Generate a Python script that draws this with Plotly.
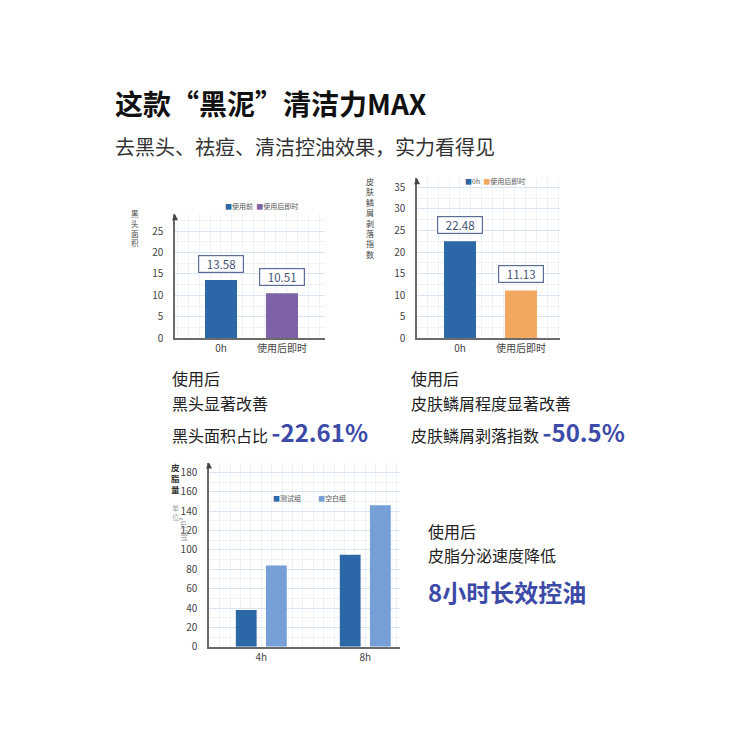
import plotly.graph_objects as go

# ---------------- data ----------------
cats1 = ["0h", "使用后即时"]
vals1 = [13.58, 10.51]
legend1 = ["使用前", "使用后即时"]

cats2 = ["0h", "使用后即时"]
vals2 = [22.48, 11.13]
legend2 = ["0h", "使用后即时"]

cats3 = ["4h", "8h"]
series3 = ["测试组", "空白组"]
test3 = [38, 95]
blank3 = [84, 146]

# ---------------- style ----------------
FONT = "Noto Sans CJK SC, Noto Sans, sans-serif"
BLUE = "#2c67a8"
PURPLE = "#7e62a6"
ORANGE = "#f3a862"
LIGHT = "#759fd6"
ACCENT = "#3c4aa8"
GRID = "#d9e3f2"
MINOR = "#edf2fa"
AXIS = "#6b6b6b"
W = H = 750
OFF = 8    # page body margin
VH = 742   # visible plot height


def px(x):
    return (x - OFF) / W


def py(y):
    return 1 - (y - OFF) / VH


fig = go.Figure()

# chart 1
fig.add_trace(go.Bar(x=[0, 1], y=vals1, marker=dict(color=[BLUE, PURPLE], line=dict(width=0)),
                     width=0.525, xaxis="x", yaxis="y", showlegend=False, hoverinfo="skip"))
# chart 2
fig.add_trace(go.Bar(x=[0, 1], y=vals2, marker=dict(color=[BLUE, ORANGE], line=dict(width=0)),
                     width=0.525, xaxis="x2", yaxis="y2", showlegend=False, hoverinfo="skip"))
# chart 3
fig.add_trace(go.Bar(x=[0, 1], y=test3, name=series3[0], marker=dict(color=BLUE, line=dict(width=0)),
                     width=0.2, offset=-0.245, xaxis="x3", yaxis="y3", showlegend=False, hoverinfo="skip"))
fig.add_trace(go.Bar(x=[0, 1], y=blank3, name=series3[1], marker=dict(color=LIGHT, line=dict(width=0)),
                     width=0.2, offset=0.045, xaxis="x3", yaxis="y3", showlegend=False, hoverinfo="skip"))


def xax(dom, rng, cats, mdt):
    return dict(domain=dom, range=rng, tickmode="array", tickvals=list(range(len(cats))), ticktext=cats,
                showgrid=False, zeroline=False, showline=True, linecolor=AXIS, linewidth=1.5,
                ticks="", tickfont=dict(size=10, color="#444", family=FONT), fixedrange=True,
                minor=dict(tickmode="linear", tick0=0, dtick=mdt, showgrid=True, gridcolor=MINOR, ticks=""))


def yax(dom, rng, dt, mdt, anchor):
    return dict(domain=dom, range=rng, dtick=dt, tick0=0, showgrid=True, gridcolor=GRID, gridwidth=1,
                zeroline=False, showline=True, linecolor=AXIS, linewidth=1.5, ticks="",
                ticklabelstandoff=8, anchor=anchor,
                tickfont=dict(size=10, color="#444", family=FONT), fixedrange=True,
                minor=dict(dtick=mdt, showgrid=True, gridcolor=MINOR, ticks=""))


fig.update_layout(
    width=W, height=H, autosize=False,
    margin=dict(l=0, r=0, t=0, b=0),
    paper_bgcolor="white", plot_bgcolor="white",
    font=dict(family=FONT, color="#222"),
    barmode="overlay",
    xaxis=dict(xax([px(175), px(325)], [-0.754, 1.705], cats1, 0.18), anchor="y"),
    yaxis=yax([py(338), py(214)], [0, 28.9], 5, 2.5, "x"),
    xaxis2=dict(xax([px(417), px(560)], [-0.705, 1.64], cats2, 0.18), anchor="y2"),
    yaxis2=yax([py(338), py(178)], [0, 37.1], 5, 2.5, "x2"),
    xaxis3=dict(xax([px(209), px(400)], [-0.503, 1.334], cats3, 0.1), anchor="y3"),
    yaxis3=yax([py(646), py(462)], [0, 190], 20, 10, "x3"),
)

ann = []


def text(x, y, s, size, color="#222", bold=False, anchor="left"):
    ann.append(dict(x=px(x), y=py(y), xref="paper", yref="paper", xanchor=anchor, yanchor="middle",
                    text=(f"<b>{s}</b>" if bold else s), showarrow=False,
                    font=dict(size=size, color=color, family=FONT)))


# titles
text(113, 103, "这款“黑泥”清洁力MAX", 28, "#111", bold=True)
text(113, 146, "去黑头、祛痘、清洁控油效果，实力看得见", 20, "#333")

# chart 1 block
text(170, 378, "使用后", 16)
text(170, 402, "黑头显著改善", 16)
text(170, 431, f"黑头面积占比 <span style='font-size:24px;color:{ACCENT}'><b>-22.61%</b></span>", 16)
# chart 2 block
text(409, 378, "使用后", 16)
text(409, 402, "皮肤鳞屑程度显著改善", 16)
text(409, 431, f"皮肤鳞屑剥落指数 <span style='font-size:24px;color:{ACCENT}'><b>-50.5%</b></span>", 16)
# chart 3 block
text(426, 530, "使用后", 16)
text(426, 554, "皮脂分泌速度降低", 16)
text(426, 591, "8小时长效控油", 24, ACCENT, bold=True)

# axis titles
text(135, 228, "<br>".join("黑头面积"), 7.5, "#444", anchor="center")
text(370, 218, "<br>".join("皮肤鳞屑剥落指数"), 8, "#444", anchor="center")
text(175, 477, "<br>".join("皮脂量"), 8.5, "#333", bold=True, anchor="center")
text(175, 512, "<br>".join("单位"), 7, "#aaa", anchor="center")
ann.append(dict(x=px(175), y=py(543), xref="paper", yref="paper", text="μg/m²", textangle=-90,
                showarrow=False, font=dict(size=8, color="#999", family=FONT)))

# legends (colored square glyphs)
def leg(x, y, items):
    s = "  ".join(f"<span style='color:{c}'>■</span><span style='color:#555'>{n}</span>" for n, c in items)
    text(x, y, s, 7)


leg(223, 206, list(zip(legend1, [BLUE, PURPLE])))
leg(463, 181, list(zip(legend2, [BLUE, ORANGE])))
leg(271, 497, [(series3[0], BLUE)])
leg(316, 497, [(series3[1], LIGHT)])

# value labels
for xa, ya, vals in (("x", "y", vals1), ("x2", "y2", vals2)):
    for i, v in enumerate(vals):
        ann.append(dict(x=i, y=v, xref=xa, yref=ya, text=f"{v:.2f}", showarrow=False, yanchor="bottom",
                        yshift=7, bgcolor="white", bordercolor="#5b6e96", borderwidth=1.2, borderpad=0,
                        width=44, font=dict(size=11.5, color="#3f5277", family=FONT)))

# axis arrows
for xa, ya in (("x", "y"), ("x2", "y2"), ("x3", "y3")):
    ann.append(dict(x=0, y=1, xref=f"{xa} domain", yref=f"{ya} domain", ax=0, ay=6, axref="pixel",
                    ayref="pixel", showarrow=True, arrowhead=2, arrowsize=0.8, arrowwidth=1.5,
                    arrowcolor="#444", text=""))

fig.update_layout(annotations=ann)
fig.write_html("out.html")
